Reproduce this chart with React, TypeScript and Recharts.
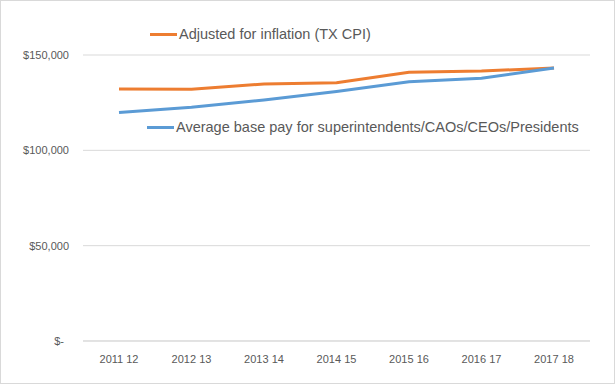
import { LineChart, Line, XAxis, YAxis, CartesianGrid } from "recharts"

const years = ["2011 12", "2012 13", "2013 14", "2014 15", "2015 16", "2016 17", "2017 18"]
const adjustedPay = [132200, 132000, 134800, 135400, 140900, 141600, 143200]
const basePay = [119800, 122600, 126400, 130800, 136000, 137800, 143200]
const yTicks = [0, 50000, 100000, 150000]

const seriesNames = {
  adjusted: "Adjusted for inflation (TX CPI)",
  base: "Average base pay for superintendents/CAOs/CEOs/Presidents",
}

const ORANGE = "#ED7D31"
const BLUE = "#5B9BD5"
const TEXT = "#595959"
const FONT = "'Liberation Sans', Arial, sans-serif"

const data = years.map((year, i) => ({ year, adjusted: adjustedPay[i], base: basePay[i] }))

const formatMoney = (v: number) => (v === 0 ? "$-" : "$" + v.toLocaleString("en-US"))

const YTick = ({ x, y, payload }: any) => {
  const label = formatMoney(payload.value)
  return (
    <text x={payload.value === 0 ? x - 5 : x} y={y} dy={4} textAnchor="end" fill={TEXT} fontSize={11} fontFamily={FONT}>
      {label}
    </text>
  )
}

const LegendItem = ({ color, name, left, top }: { color: string; name: string; left: number; top: number }) => (
  <div style={{ position: "absolute", left, top, display: "flex", alignItems: "center", whiteSpace: "nowrap" }}>
    <span style={{ display: "inline-block", width: 27, height: 3, background: color, marginRight: 2 }} />
    <span style={{ fontSize: 14.5, color: TEXT, fontFamily: FONT }}>{name}</span>
  </div>
)

const App = () => {
  return (
    <div
      style={{
        position: "absolute",
        left: 0,
        top: 0,
        width: 613,
        height: 382,
        border: "1px solid #d9d9d9",
        background: "#fff",
      }}
    >
      <LineChart width={613} height={382} data={data} margin={{ top: 54, right: 24, left: 0, bottom: 12 }}>
        <CartesianGrid vertical={false} stroke="#d9d9d9" />
        <XAxis
          dataKey="year"
          height={30}
          padding={{ left: 36, right: 36 }}
          tickLine={false}
          axisLine={{ stroke: "#d9d9d9" }}
          tick={{ fill: TEXT, fontSize: 11, fontFamily: FONT }}
          tickMargin={8}
        />
        <YAxis
          width={82}
          domain={[0, 150000]}
          ticks={yTicks}
          axisLine={false}
          tickLine={false}
          tick={<YTick />}
          tickMargin={8}
        />
        <Line type="linear" dataKey="adjusted" stroke={ORANGE} strokeWidth={3} dot={false} isAnimationActive={false} />
        <Line type="linear" dataKey="base" stroke={BLUE} strokeWidth={3} dot={false} isAnimationActive={false} />
      </LineChart>
      <LegendItem color={ORANGE} name={seriesNames.adjusted} left={149} top={25} />
      <LegendItem color={BLUE} name={seriesNames.base} left={146} top={118} />
    </div>
  )
}

export default App
